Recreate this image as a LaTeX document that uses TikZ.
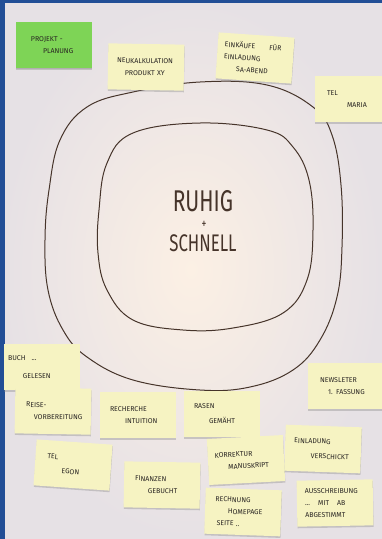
\documentclass[tikz,border=0pt]{standalone}
\usepackage{fontspec}
\setmainfont{Fira Sans}
\usetikzlibrary{shadows}

\definecolor{notecol}{RGB}{246,243,194}
\definecolor{plancol}{RGB}{126,212,86}
\definecolor{inkcol}{RGB}{40,36,34}
\definecolor{penbrown}{RGB}{70,52,42}
\definecolor{frameblue}{RGB}{34,78,150}
\definecolor{boardin}{RGB}{252,240,228}
\definecolor{boardout}{RGB}{230,225,229}

\tikzset{
  note/.style={fill=notecol, text=inkcol, font=\fontsize{7}{12}\selectfont,
    text width=72pt, inner xsep=2pt, minimum height=46pt, align=left,
    drop shadow={shadow xshift=0.3pt,shadow yshift=-1.6pt,opacity=.35}},
  plannote/.style={note, fill=plancol, drop shadow={shadow xshift=0.3pt,shadow yshift=-1.2pt,opacity=.25}},
  ring/.style={draw=penbrown, line width=1pt},
  bigink/.style={text=penbrown, inner sep=0pt, xscale=.7}
}

\begin{document}
\begin{tikzpicture}[x=1pt,y=-1pt]
\useasboundingbox (0,0) rectangle (382,539);

% tafel
\shade[inner color=boardin, outer color=boardout] (0,0) rectangle (382,539);
\fill[frameblue] (0,0) rectangle (5,539);
\fill[frameblue] (0,0) rectangle (382,3);

% aeusserer und innerer kreis
\draw[ring] plot[smooth cycle, tension=.65] coordinates {
  (200,82) (267,85) (313,107) (332,135) (341,185) (342,247) (337,297)
  (320,340) (293,370) (250,387) (200,390) (133,380) (87,357) (63,330)
  (48,290) (45,240) (49,190) (60,140) (87,107) (133,92)};
\draw[ring] plot[smooth cycle, tension=.65] coordinates {
  (200,123) (267,130) (293,147) (309,180) (313,230) (307,280) (283,313)
  (233,328) (183,330) (133,320) (107,290) (98,253) (99,210) (107,163)
  (133,133)};

% mitte
\node[bigink, font=\fontsize{30}{30}\selectfont, anchor=base] (ruhig) at (203,211) {RUHIG};
\node[bigink, font=\fontsize{14}{14}\selectfont] (plus) at (204,225) {+};
\node[bigink, font=\fontsize{24}{24}\selectfont, anchor=base] (schnell) at (203,251) {SCHNELL};

% zettel
\node[plannote] (planung) at (54,45) {\hspace*{13pt}PROJEKT -\\\hspace*{25pt}PLANUNG};

\foreach \nm/\px/\py/\ang/\txt in {
  neukalk/146/67/-1/{\hspace*{7pt}NEUKALKULATION\\\hspace*{15pt}PRODUKT XY},
  einkauf/255/58/-4/{\hspace*{5pt}EINKÄUFE\hspace{14pt}FÜR\\\hspace*{5pt}EINLADUNG\\\hspace*{18pt}SA-ABEND},
  maria/353/99/0/{\hspace*{10pt}TEL\\\hspace*{30pt}MARIA},
  buch/42/367/0/{\hspace*{2pt}BUCH\hspace{6pt}...\\[6pt]\hspace*{17pt}GELESEN},
  reise/53/411/-1/{\hspace*{9pt}REISE-\\\hspace*{17pt}VORBEREITUNG},
  recherche/138/415/0/{\hspace*{8pt}RECHERCHE\\\hspace*{23pt}INTUITION},
  rasen/222/414/0/{\hspace*{8pt}RASEN\\[3pt]\hspace*{23pt}GEMÄHT},
  newsletter/346/386/0/{\hspace*{10pt}NEWSLETER\\\hspace*{18pt}1. FASSUNG},
  egon/73/465/-4/{\hspace*{10pt}TEL\\[2pt]\hspace*{25pt}EGON},
  finanzen/162/485/-1/{\hspace*{9pt}FINANZEN\\\hspace*{22pt}GEBUCHT},
  korrektur/246/460/3/{\hspace*{5pt}KORREKTUR\\\hspace*{18pt}MANUSKRIPT},
  einladung/323/449/-2/{\hspace*{7pt}EINLADUNG\\[3pt]\hspace*{24pt}VERSCHICKT},
  rechnung/243/512/-2/{\hspace*{8pt}RECHNUNG\\\hspace*{21pt}HOMEPAGE\\\hspace*{10pt}SEITE ..},
  ausschreibung/335/503/1/{\hspace*{6pt}AUSSCHREIBUNG\\\hspace*{6pt}...\hspace{8pt}MIT\hspace{8pt}AB\\\hspace*{6pt}ABGESTIMMT}}
  \node[note, rotate=\ang] (\nm) at (\px,\py) {\txt};

\end{tikzpicture}
\end{document}
